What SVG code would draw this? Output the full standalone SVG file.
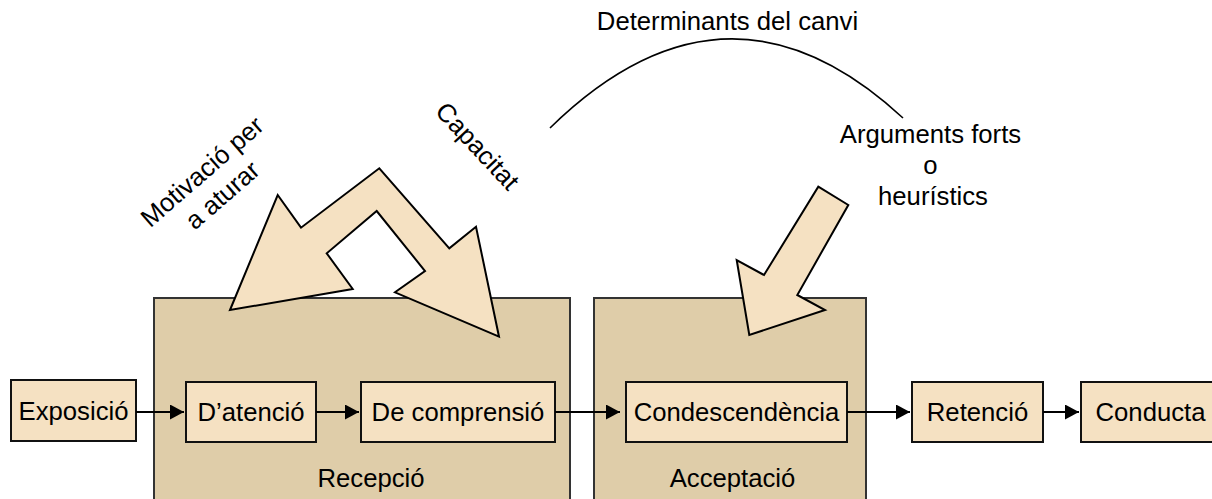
<svg xmlns="http://www.w3.org/2000/svg" width="1212" height="499" viewBox="0 0 1212 499">
<style>
text{font-family:"Liberation Sans",Arial,sans-serif;font-size:25.7px;fill:#000}
.c{text-anchor:middle}
.big{fill:#DFCDA9;stroke:#333;stroke-width:2}
.box{fill:#F5E1C2;stroke:#111;stroke-width:2}
.shape{fill:#F5E1C2;stroke:#000;stroke-width:2;stroke-linejoin:miter}
.ln{fill:none;stroke:#000;stroke-width:2}
</style>
<defs>
<marker id="ah" markerUnits="userSpaceOnUse" markerWidth="15" markerHeight="16" refX="14" refY="7.5" orient="auto">
<path d="M0,0 L14,7.5 L0,15 z" fill="#000"/>
</marker>
</defs>
<g id="recepcio">
<rect class="big" x="154" y="298" width="416" height="215"/>
<text class="c" x="371" y="487">Recepció</text>
</g>
<g id="acceptacio">
<rect class="big" x="594" y="298" width="272" height="215"/>
<text class="c" x="732.5" y="487">Acceptació</text>
</g>
<g id="determinants">
<path class="ln" d="M550,128 Q727,-45 903,118" style="stroke-width:1.6"/>
<text class="c" x="727.5" y="30">Determinants del canvi</text>
</g>
<g id="doble-fletxa">
<polygon class="shape" points="230,310 277.7,195 301,227.7 379.3,168.3 449.3,248.3 476,226.7 499,336.7 395,292.3 425,271 376.7,211 326.7,253.3 352.7,289"/>
<text class="c" transform="translate(218,190) rotate(-41)"><tspan x="0" y="-15.5">Motivació per</tspan><tspan x="0" y="15.5">a aturar</tspan></text>
<text class="c" transform="translate(471,152) rotate(47)" x="0" y="0">Capacitat</text>
</g>
<g id="arguments">
<polygon class="shape" points="818.3,186.7 848.3,205 797.3,295 825,310 749.3,335 736.7,260 764,275"/>
<text class="c" x="930.5" y="143">Arguments forts</text>
<text class="c" x="930.5" y="174">o</text>
<text class="c" x="933" y="205">heurístics</text>
</g>
<g id="exposicio">
<rect class="box" x="11" y="380" width="125" height="61"/>
<text class="c" x="73.5" y="420">Exposició</text>
</g>
<g id="atencio">
<rect class="box" x="186" y="382" width="130" height="60"/>
<text class="c" x="251" y="421">D’atenció</text>
</g>
<g id="comprensio">
<rect class="box" x="361" y="382" width="194" height="60"/>
<text class="c" x="458" y="421">De comprensió</text>
</g>
<g id="condescendencia">
<rect class="box" x="626" y="382" width="221" height="60"/>
<text class="c" x="736.5" y="421">Condescendència</text>
</g>
<g id="retencio">
<rect class="box" x="912" y="382" width="131" height="60"/>
<text class="c" x="977.5" y="421">Retenció</text>
</g>
<g id="conducta">
<rect class="box" x="1081" y="382" width="139" height="60"/>
<text class="c" x="1150.5" y="421">Conducta</text>
</g>
<g id="connectors">
<line class="ln" x1="136" y1="412" x2="184" y2="412" marker-end="url(#ah)"/>
<line class="ln" x1="316" y1="412" x2="359" y2="412" marker-end="url(#ah)"/>
<line class="ln" x1="555" y1="412" x2="620" y2="412" marker-end="url(#ah)"/>
<line class="ln" x1="847" y1="412" x2="910" y2="412" marker-end="url(#ah)"/>
<line class="ln" x1="1043" y1="412" x2="1079" y2="412" marker-end="url(#ah)"/>
</g>
</svg>
